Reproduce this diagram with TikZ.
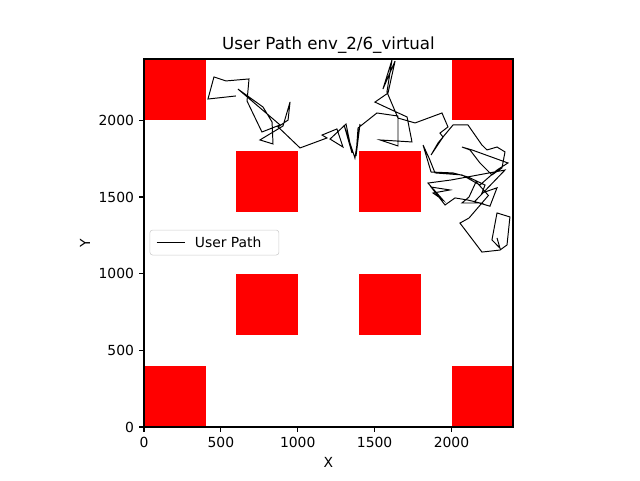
\documentclass[tikz,border=0pt]{standalone}
\usepackage{fontspec}
\setmainfont{DejaVu Sans}

\begin{document}
\begin{tikzpicture}[x=0.1107pt, y=0.1104pt,
    obstacle/.style={fill=red},
    ticklabel/.style={font=\fontsize{10}{12}\selectfont, inner sep=0pt},
    tickmark/.style={line width=0.8pt},
    pathline/.style={line width=0.7pt, line join=miter}]
  \useasboundingbox (-936.6,-345.7) rectangle (3226,2784.9);

  \foreach \x/\y in {0/2000, 2000/2000, 600/1400, 1400/1400, 600/600, 1400/600, 0/0, 2000/0} {
    \fill[obstacle] (\x,\y) rectangle ++(400,400);
  }

  \draw[pathline] plot coordinates {
    (598,2159) (416,2139) (455,2283) (533,2257) (683,2270) (670,2126)
    (767,1924) (885,1970) (611,2204) (774,2087) (833,1989) (839,1846)
    (754,1872) (904,1963) (950,2120) (937,2002) (872,1957) (1015,1820)
    (1190,1885) (1158,1904) (1255,1944) (1294,1826) (1210,1878) (1314,1976)
    (1353,1787) (1301,1970) (1372,1754) (1405,1976) (1379,1767) (1392,1950)
    (1515,2048) (1652,2028) (1652,1833) (1535,1872) (1743,1859) (1711,2022)
    (1613,2067) (1502,2119) (1587,2178) (1633,2387) (1554,2204) (1613,2394)
    (1580,2185) (1652,2015) (1763,1983) (1938,2048) (1977,1957) (1925,1917)
    (1945,1891) (1867,1774) (1912,1852) (2010,1970) (2107,1970) (2198,1839)
    (2231,1807) (2296,1826) (2348,1794) (2328,1689) (2263,1644) (2185,1722)
    (2120,1807) (2068,1826) (2133,1807) (2367,1722) (2296,1676) (2185,1578)
    (2068,1644) (1893,1657) (1854,1754) (1815,1839) (1867,1663) (2010,1657)
    (2107,1631) (2218,1578) (2198,1526) (2296,1560) (2250,1440) (2150,1470)
    (2348,1676) (1997,1611) (1847,1591) (1945,1480) (1880,1526) (1990,1546)
    (1867,1565) (1958,1448) (2023,1494) (2107,1480) (2185,1461) (2068,1461)
    (2114,1500) (2160,1600) (2240,1510) (2114,1363) (2055,1330) (2198,1141)
    (2315,1154) (2361,1187) (2380,1370) (2296,1396) (2263,1220) (2315,1167)
    (2296,1233)
  };

  \draw[line width=0.8pt] (0,0) rectangle (2400,2400);

  \foreach \v in {0, 500, 1000, 1500, 2000} {
    \draw[tickmark] (\v,0) -- ++(0,-3.5pt);
    \draw[tickmark] (0,\v) -- ++(-3.5pt,0);
    \node[ticklabel, anchor=north, yshift=-7pt] (xt-\v) at (\v,0) {\v};
    \node[ticklabel, anchor=east, xshift=-7pt] (yt-\v) at (0,\v) {\v};
  }

  \node[font=\fontsize{12}{14}\selectfont, inner sep=0pt, anchor=base] (title) at (1200,2465) {User Path env\_2/6\_virtual};
  \node[ticklabel, anchor=base] (xlabel) at (1200,-261) {X};
  \node[ticklabel, rotate=90] (ylabel) at (-384,1200) {Y};

  \node[draw=black!20, fill=white, fill opacity=0.8, text opacity=1, rounded corners=2pt,
        minimum width=92.9pt, minimum height=18pt, inner sep=0pt] (legend) at (458,1203) {};
  \draw[pathline] ([xshift=5.1pt]legend.west) -- ++(20.1pt,0);
  \node[ticklabel, anchor=west] (legend-text) at ([xshift=32.4pt]legend.west) {User Path};
\end{tikzpicture}
\end{document}
